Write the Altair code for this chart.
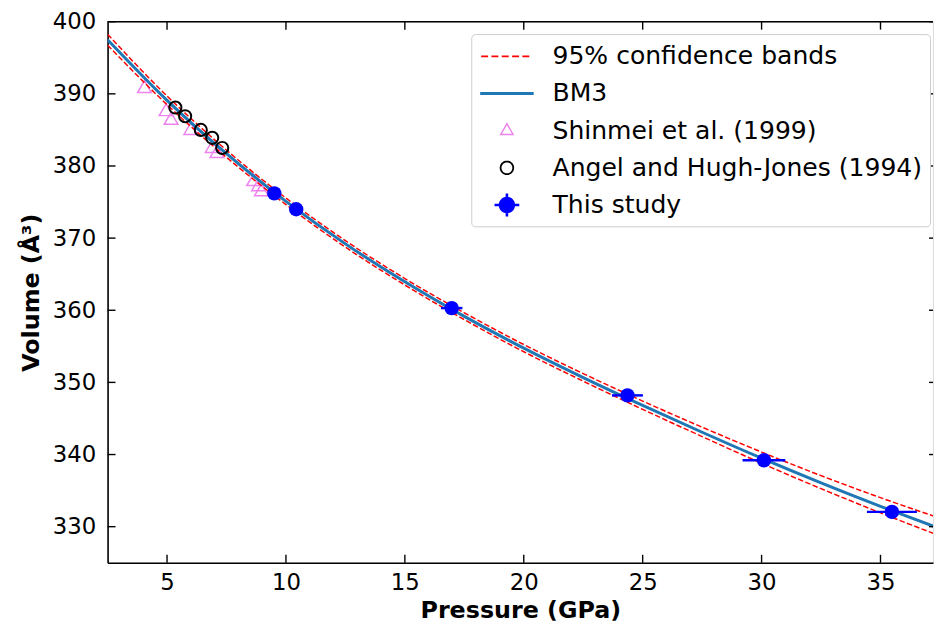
import altair as alt
import pandas as pd
import math

# ---------------- data ----------------
curve_p = [2.5, 5, 7.5, 10, 12.5, 15, 17.5, 20, 22.5, 25, 27.5, 30, 32.5, 35, 37.5]
curve_v = [397.5, 389.1, 381.7, 375.1, 369.2, 363.95, 359.15, 354.75, 350.67,
           346.81, 343.09, 339.49, 336.07, 332.82, 329.72]
band_hi = [398.25, 389.7, 382.2, 375.55, 369.65, 364.4, 359.65, 355.25, 351.22,
           347.41, 343.79, 340.34, 337.07, 334.02, 331.17]
band_lo = [396.75, 388.5, 381.2, 374.65, 368.75, 363.5, 358.7, 354.25, 350.17,
           346.26, 342.49, 338.79, 335.27, 331.92, 328.72]

shinmei_p = [4.05, 4.96, 5.17, 6.0, 6.9, 7.1, 8.64, 8.85, 8.97]
shinmei_v = [391.0, 387.8, 386.6, 385.2, 382.7, 382.0, 378.1, 377.4, 376.7]

angel_p = [5.35, 5.76, 6.42, 6.90, 7.32]
angel_v = [388.1, 386.9, 385.0, 383.9, 382.5]

study_p = [9.51, 10.43, 16.97, 24.36, 30.1, 35.48]
study_v = [376.2, 374.0, 360.3, 348.2, 339.2, 332.05]
study_dp = [0.25, 0.25, 0.45, 0.65, 0.9, 1.05]
study_dv = [0.35, 0.35, 0.35, 0.4, 0.4, 0.4]

x_ticks = [5, 10, 15, 20, 25, 30, 35]
y_ticks = [330, 340, 350, 360, 370, 380, 390, 400]

legend_labels = ["95% confidence bands", "BM3", "Shinmei et al. (1999)",
                 "Angel and Hugh-Jones (1994)", "This study"]
legend_colors = ["red", "#1f77b4", "violet", "black", "blue"]

# ---------------- layout ----------------
W, H = 833, 546
FONT = "DejaVu Sans"

xs = alt.Scale(domain=[2.5, 2.5 + W / 24.0], nice=False, zero=False)
ys = alt.Scale(domain=[325, 400], nice=False, zero=False)
xaxis = alt.Axis(values=x_ticks, ticks=False, grid=False, labelFontSize=23,
                 labelFont=FONT, labelColor="black", labelPadding=9,
                 titleFontSize=24, titleFont=FONT, titleFontWeight="bold",
                 titleColor="black", titlePadding=4, domainColor="black",
                 domainWidth=1.6)
yaxis = alt.Axis(values=y_ticks, ticks=False, grid=False, labelFontSize=23,
                 labelFont=FONT, labelColor="black", labelPadding=12,
                 titleFontSize=24, titleFont=FONT, titleFontWeight="bold",
                 titleColor="black", titlePadding=9, domainColor="black",
                 domainWidth=1.6)
XT = "Pressure (GPa)"
YT = "Volume (Å³)"


def X(f):
    return alt.X(f, type="quantitative", scale=xs, axis=xaxis, title=XT)


def Y(f):
    return alt.Y(f, type="quantitative", scale=ys, axis=yaxis, title=YT)


curve_df = pd.DataFrame({"P": curve_p, "V": curve_v, "hi": band_hi, "lo": band_lo})
shin_df = pd.DataFrame({"P": shinmei_p, "V": shinmei_v})
angel_df = pd.DataFrame({"P": angel_p, "V": angel_v})
study_df = pd.DataFrame({"P": study_p, "V": study_v, "dp": study_dp, "dv": study_dv})
study_df["p0"] = study_df.P - study_df.dp
study_df["p1"] = study_df.P + study_df.dp
study_df["v0"] = study_df.V - study_df.dv
study_df["v1"] = study_df.V + study_df.dv

dash = [5.5, 2.4]
band_up = alt.Chart(curve_df).mark_line(color="red", strokeWidth=1.5, strokeDash=dash,
                                        interpolate="monotone", clip=True).encode(x=X("P"), y=Y("hi"))
band_dn = alt.Chart(curve_df).mark_line(color="red", strokeWidth=1.5, strokeDash=dash,
                                        interpolate="monotone", clip=True).encode(x=X("P"), y=Y("lo"))
bm3 = alt.Chart(curve_df).mark_line(color="#1f77b4", strokeWidth=3,
                                    interpolate="monotone", clip=True).encode(x=X("P"), y=Y("V"))

shin = alt.Chart(shin_df).mark_point(shape="triangle-up", filled=False, color="violet",
                                     size=190, strokeWidth=1.5, opacity=1).encode(x=X("P"), y=Y("V"))
angel = alt.Chart(angel_df).mark_point(shape="circle", filled=False, color="black",
                                       size=150, strokeWidth=2, opacity=1).encode(x=X("P"), y=Y("V"))
err_h = alt.Chart(study_df).mark_rule(color="blue", strokeWidth=2.5).encode(
    x=X("p0"), x2="p1", y=Y("V"))
err_v = alt.Chart(study_df).mark_rule(color="blue", strokeWidth=2.5).encode(
    x=X("P"), y=Y("v0"), y2="v1")
study = alt.Chart(study_df).mark_circle(color="blue", size=210, opacity=1).encode(
    x=X("P"), y=Y("V"))

# inward ticks (matplotlib style) and top spine
xt_df = pd.DataFrame({"t": x_ticks})
yt_df = pd.DataFrame({"t": y_ticks})
tick_bot = alt.Chart(xt_df).mark_rule(color="black", strokeWidth=1.4).encode(
    x=X("t"), y=alt.value(H), y2=alt.value(H - 8))
tick_top = alt.Chart(xt_df).mark_rule(color="black", strokeWidth=1.4).encode(
    x=X("t"), y=alt.value(0), y2=alt.value(8))
tick_left = alt.Chart(yt_df).mark_rule(color="black", strokeWidth=1.4).encode(
    y=Y("t"), x=alt.value(0), x2=alt.value(8))
tick_right = alt.Chart(yt_df).mark_rule(color="black", strokeWidth=1.4).encode(
    y=Y("t"), x=alt.value(W - 4), x2=alt.value(W))
top_spine = alt.Chart(pd.DataFrame({"a": [0]})).mark_rule(color="black", strokeWidth=1.6).encode(
    x=alt.value(0), x2=alt.value(W), y=alt.value(0))

# ---------------- legend symbols (custom filled paths) ----------------
U = 15.0   # px per path unit for symbolSize 900
CX = 13.5  # symbol centre shift (px)


def f(v):
    return f"{v / U:.3f}"


def rect(x0, x1, y0, y1):
    return f"M{f(x0)},{f(y0)}L{f(x1)},{f(y0)}L{f(x1)},{f(y1)}L{f(x0)},{f(y1)}Z"


def poly(pts):
    return "M" + "L".join(f"{f(a)},{f(b)}" for a, b in pts) + "Z"


def circ(cx, r, rev=False, n=28):
    pts = [(cx + r * math.cos(2 * math.pi * k / n), r * math.sin(2 * math.pi * k / n)) for k in range(n)]
    if rev:
        pts = pts[::-1]
    return poly(pts)


p_dash = "".join(rect(x0, x0 + 7.0, -0.8, 0.8) for x0 in [-12.5, -2.1, 8.3, 18.7, 29.1])
p_line = rect(-13.5, 40.5, -1.5, 1.5)
p_tri = poly([(CX, -8.5), (CX + 7.5, 4.5), (CX - 7.5, 4.5)]) + \
    poly([(CX, -5.6), (CX - 5.0, 3.0), (CX + 5.0, 3.0)])
p_ring = circ(CX, 7.3) + circ(CX, 5.5, rev=True)
p_study = circ(CX, 8.3) + rect(CX - 12.5, CX + 12.5, -1.3, 1.3) + rect(CX - 1.3, CX + 1.3, -11.5, 11.5)
legend_paths = [p_dash, p_line, p_tri, p_ring, p_study]

leg = alt.Legend(orient="none", legendX=367, legendY=12.5, title=None, symbolSize=900,
                 symbolStrokeWidth=0, symbolOpacity=1, labelFont=FONT, labelFontSize=25.3,
                 labelColor="black", labelOffset=44.5, labelLimit=600, rowPadding=8.5,
                 padding=7.5, strokeColor="#cccccc", fillColor="white", cornerRadius=4)

leg_df = pd.DataFrame({"series": legend_labels, "P": [0.0] * 5, "V": [360.0] * 5})
legend_layer = alt.Chart(leg_df).mark_point(filled=True, opacity=1, clip=True, strokeWidth=0).encode(
    x=X("P"), y=Y("V"),
    fill=alt.Fill("series:N", scale=alt.Scale(domain=legend_labels, range=legend_colors), legend=leg),
    shape=alt.Shape("series:N", scale=alt.Scale(domain=legend_labels, range=legend_paths), legend=leg),
)

chart = alt.layer(
    shin, band_up, band_dn, bm3, angel, err_h, err_v, study,
    tick_bot, tick_top, tick_left, tick_right, top_spine, legend_layer
).properties(
    width=W, height=H,
    padding={"left": 11.5, "top": 0, "right": 0, "bottom": 0},
    background="white",
).configure_view(stroke=None).configure(font=FONT)

chart.save("out.html", embed_options={"renderer": "svg", "actions": False})
